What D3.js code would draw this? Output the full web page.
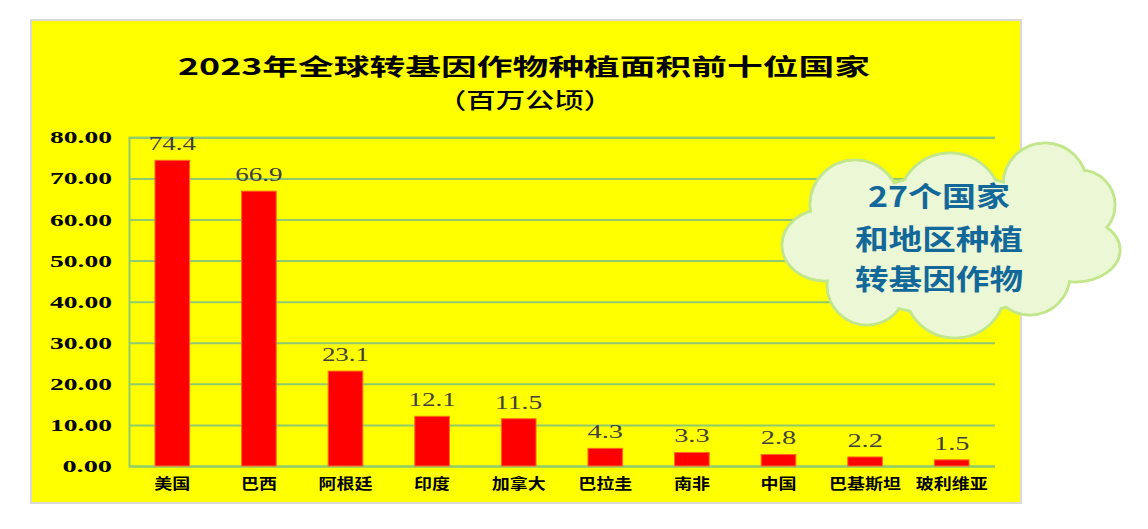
<!DOCTYPE html>
<html><head><meta charset="utf-8">
<script src="https://cdn.jsdelivr.net/npm/d3@7/dist/d3.min.js"></script>
<style>
html,body{margin:0;padding:0;background:#fff;}
svg{display:block;}
</style></head>
<body>
<svg id="chart" width="1148" height="529"></svg>
<script>
// ---- data ----
const categories = ["美国","巴西","阿根廷","印度","加拿大","巴拉圭","南非","中国","巴基斯坦","玻利维亚"];
const values = [74.4, 66.9, 23.1, 12.1, 11.5, 4.3, 3.3, 2.8, 2.2, 1.5];
const valueLabels = ["74.4","66.9","23.1","12.1","11.5","4.3","3.3","2.8","2.2","1.5"];
const yTicks = [0,10,20,30,40,50,60,70,80];
const titleLines = ["2023年全球转基因作物种植面积前十位国家","（百万公顷）"];
const cloudLines = ["27个国家","和地区种植","转基因作物"];

const svg = d3.select("#chart");

// panel
svg.append("rect").attr("x",31).attr("y",20).attr("width",990).attr("height",483)
  .attr("fill","#FFFF00").attr("stroke","#D9D9D9").attr("stroke-width",2);

const plot = {left:129, right:995, top:137.3, bottom:466};

const x = d3.scaleBand().domain(categories).range([plot.left, plot.right])
  .paddingInner(0.6).paddingOuter(0.3);
const y = d3.scaleLinear().domain([0,80]).range([plot.bottom, plot.top]);

// y axis + gridlines
const yAxis = svg.append("g").attr("transform",`translate(${plot.left},0)`)
  .call(d3.axisLeft(y).tickValues(yTicks).tickFormat(d3.format(".2f"))
    .tickSize(-(plot.right-plot.left)).tickPadding(17));
yAxis.select(".domain").attr("stroke","#8FCB6E").attr("stroke-width",2);
yAxis.selectAll(".tick line").attr("stroke","#8FCB6E").attr("stroke-width",2);
yAxis.selectAll(".tick text")
  .attr("font-family","'Liberation Serif', serif").attr("font-weight","bold")
  .attr("font-size",17.5).attr("fill","#000")
  .attr("textLength", d => d3.format(".2f")(d).length*12.4)
  .attr("lengthAdjust","spacingAndGlyphs");

// bars
svg.append("g").selectAll("rect").data(values).join("rect")
  .attr("x",(d,i)=>x(categories[i]))
  .attr("y",d=>y(d))
  .attr("width",x.bandwidth())
  .attr("height",d=>y(0)-y(d))
  .attr("fill","#FF0000").attr("stroke","#FF6A1A").attr("stroke-width",1);

// value labels
svg.append("g").selectAll("text").data(values).join("text")
  .attr("x",(d,i)=>x(categories[i])+x.bandwidth()/2)
  .attr("y",d=>y(d)-10)
  .attr("text-anchor","middle")
  .attr("font-family","'Liberation Serif', serif").attr("font-size",18)
  .attr("fill","#404040")
  .attr("textLength",(d,i)=>valueLabels[i].length*11.8)
  .attr("lengthAdjust","spacingAndGlyphs")
  .text((d,i)=>valueLabels[i]);

// x axis labels
const xAxis = svg.append("g").attr("transform",`translate(0,${plot.bottom})`)
  .call(d3.axisBottom(x).tickSize(0).tickPadding(0));
xAxis.select(".domain").remove();
xAxis.selectAll(".tick text")
  .attr("y",16).attr("dy",null).attr("dominant-baseline","central")
  .attr("font-family","'Noto Sans CJK SC', sans-serif").attr("font-weight","bold")
  .attr("font-size",14.5).attr("fill","#000")
  .attr("textLength", d => d.length*18)
  .attr("lengthAdjust","spacingAndGlyphs");

// title
svg.append("text").attr("x",524).attr("y",64.5).attr("text-anchor","middle")
  .attr("dominant-baseline","central")
  .attr("font-family","'Noto Sans CJK SC', sans-serif").attr("fill","#000")
  .attr("font-weight",600).attr("font-size",23)
  .attr("textLength",692).attr("lengthAdjust","spacingAndGlyphs")
  .text(titleLines[0]);
svg.append("text").attr("x",525).attr("y",98).attr("text-anchor","middle")
  .attr("dominant-baseline","central")
  .attr("font-family","'Noto Sans CJK SC', sans-serif").attr("fill","#000")
  .attr("font-weight",500).attr("font-size",22)
  .attr("textLength",176).attr("lengthAdjust","spacingAndGlyphs")
  .text(titleLines[1]);

// cloud callout (decoration)
const puffs = [
  [1045,185,42,42],[1080,205,35,35],[1075,250,45,32],[1030,275,40,40],
  [955,290,50,48],[867,285,40,40],[825,245,43,36],[855,205,45,45],
  [950,205,52,52],[950,245,120,70]
];
const cloud = svg.append("g");
cloud.selectAll("ellipse.o").data(puffs).join("ellipse").attr("class","o")
  .attr("cx",d=>d[0]).attr("cy",d=>d[1]).attr("rx",d=>d[2]).attr("ry",d=>d[3])
  .attr("fill","#EBF7D5").attr("stroke","#C2E68A").attr("stroke-width",3);
cloud.selectAll("ellipse.f").data(puffs).join("ellipse").attr("class","f")
  .attr("cx",d=>d[0]).attr("cy",d=>d[1]).attr("rx",d=>d[2]-1.5).attr("ry",d=>d[3]-1.5)
  .attr("fill","#EBF7D5");
const cloudY = [195,238,278];
cloud.selectAll("text").data(cloudLines).join("text")
  .attr("x",939).attr("y",(d,i)=>cloudY[i]).attr("text-anchor","middle")
  .attr("dominant-baseline","central")
  .attr("font-family","'Noto Sans CJK SC', sans-serif").attr("font-weight","bold")
  .attr("font-size",28).attr("fill","#13689A")
  .attr("textLength",(d,i)=> i===0 ? 142 : d.length*33.6)
  .attr("lengthAdjust","spacingAndGlyphs")
  .text(d=>d);
</script>
</body></html>
